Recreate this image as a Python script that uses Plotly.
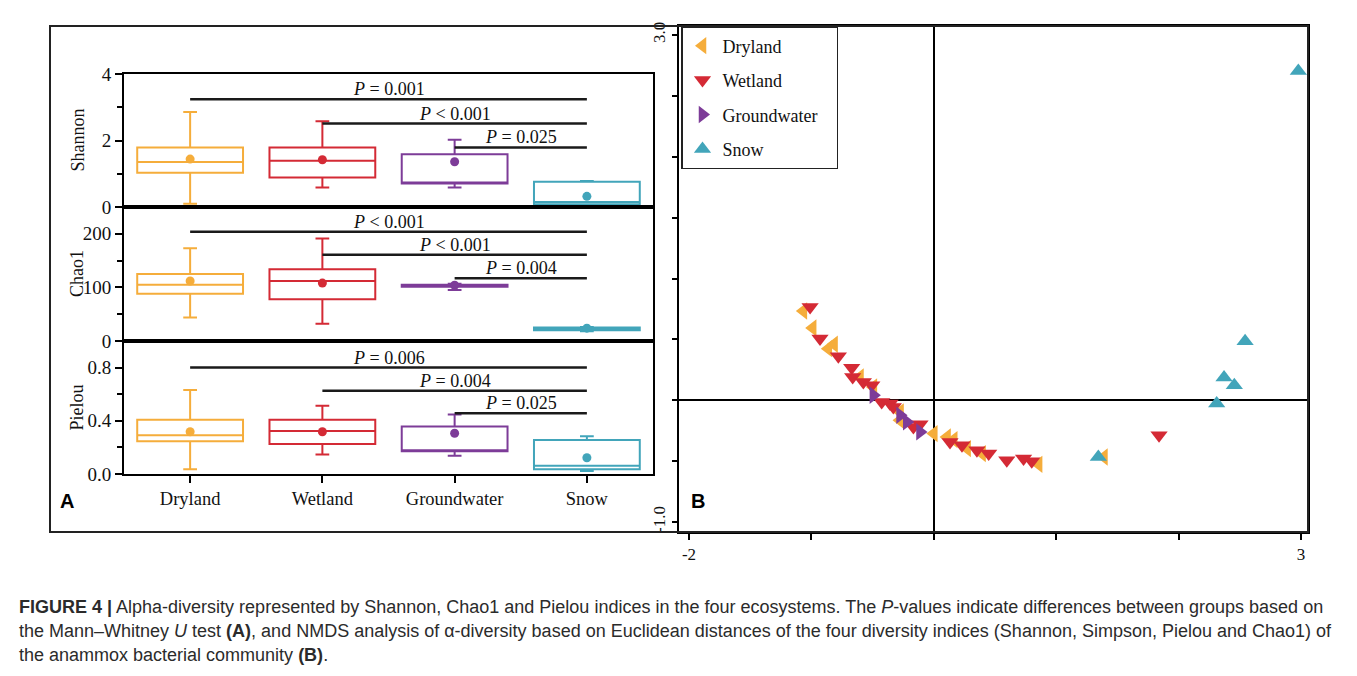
import plotly.graph_objects as go

W, H = 1357, 676

categories = ["Dryland", "Wetland", "Groundwater", "Snow"]
colors = ["#F5AD3B", "#D42A35", "#7D3C98", "#42A5BA"]

# ---- Panel A: box statistics ----
shannon_low = [0.10, 0.59, 0.59, 0.03]
shannon_q1 = [1.03, 0.89, 0.71, 0.08]
shannon_med = [1.35, 1.39, 0.71, 0.15]
shannon_q3 = [1.79, 1.79, 1.59, 0.76]
shannon_high = [2.86, 2.58, 2.02, 0.78]
shannon_mean = [1.44, 1.42, 1.36, 0.32]

chao1_low = [44, 32, 95, 18]
chao1_q1 = [88, 78, 101, 20]
chao1_med = [105, 112, 103, 22]
chao1_q3 = [125, 134, 105, 25]
chao1_high = [173, 191, 107, 26]
chao1_mean = [112, 108, 104, 24]

pielou_low = [0.035, 0.147, 0.137, 0.022]
pielou_q1 = [0.246, 0.226, 0.171, 0.035]
pielou_med = [0.291, 0.323, 0.171, 0.062]
pielou_q3 = [0.407, 0.407, 0.358, 0.256]
pielou_high = [0.631, 0.514, 0.447, 0.283]
pielou_mean = [0.318, 0.318, 0.306, 0.122]

sig_pairs = [("Dryland", "Snow"), ("Wetland", "Snow"), ("Groundwater", "Snow")]
shannon_sig_y = [3.24, 2.51, 1.79]
shannon_sig_text = ["= 0.001", "< 0.001", "= 0.025"]
chao1_sig_y = [204, 161, 117]
chao1_sig_text = ["< 0.001", "< 0.001", "= 0.004"]
pielou_sig_y = [0.80, 0.626, 0.457]
pielou_sig_text = ["= 0.006", "= 0.004", "= 0.025"]

# ---- Panel B: NMDS coordinates ----
dry_x = [-1.066, -0.990, -0.862, -0.815, -0.603, -0.494, -0.276, -0.276, 0.00, 0.108, 0.163, 0.272, 0.394, 0.856, 1.39]
dry_y = [0.733, 0.594, 0.424, 0.460, 0.191, 0.109, -0.096, -0.164, -0.274, -0.301, -0.323, -0.397, -0.438, -0.526, -0.466]
wet_x = [-1.011, -0.930, -0.780, -0.671, -0.663, -0.576, -0.507, -0.426, -0.358, -0.331, -0.167, -0.113, 0.132, 0.230, 0.352, 0.448, 0.596, 0.733, 0.800, 1.84]
wet_y = [0.766, 0.507, 0.361, 0.268, 0.191, 0.150, 0.123, -0.014, -0.027, -0.055, -0.219, -0.197, -0.342, -0.370, -0.411, -0.438, -0.493, -0.479, -0.501, -0.287]
gw_x = [-0.494, -0.276, -0.221, -0.113]
gw_y = [0.041, -0.123, -0.178, -0.260]
snow_x = [2.978, 2.543, 2.371, 2.455, 2.311, 1.344]
snow_y = [2.705, 0.485, 0.186, 0.123, -0.027, -0.466]

SERIF = "Liberation Serif"
SANS = "Liberation Sans"

def px_x(p):
    return p / W

def px_y(p):
    return 1 - p / H

fig = go.Figure()

panelA_x = [px_x(124), px_x(653)]
rows = [
    ("x", "y", [px_y(207), px_y(74)], [0, 4], [0, 2, 4], 1, shannon_low, shannon_q1, shannon_med, shannon_q3, shannon_high, shannon_mean, shannon_sig_y, shannon_sig_text, "Shannon"),
    ("x2", "y2", [px_y(341), px_y(207)], [0, 250], [0, 100, 200], 50, chao1_low, chao1_q1, chao1_med, chao1_q3, chao1_high, chao1_mean, chao1_sig_y, chao1_sig_text, "Chao1"),
    ("x3", "y3", [px_y(474), px_y(341)], [0, 1.0], [0.0, 0.4, 0.8], 0.2, pielou_low, pielou_q1, pielou_med, pielou_q3, pielou_high, pielou_mean, pielou_sig_y, pielou_sig_text, "Pielou"),
]

annotations = []
layout_axes = {}
for i, (xa, ya, ydom, yr, tv, minor, low, q1, med, q3, high, mean, sig_y, sig_t, title) in enumerate(rows):
    for j, cat in enumerate(categories):
        fig.add_trace(go.Box(
            x=[cat], q1=[q1[j]], median=[med[j]], q3=[q3[j]],
            lowerfence=[low[j]], upperfence=[high[j]],
            xaxis=xa, yaxis=ya, width=0.8, whiskerwidth=0.13,
            line=dict(color=colors[j], width=2), fillcolor="white",
            boxpoints=False, showlegend=False, hoverinfo="skip"))
    fig.add_trace(go.Scatter(
        x=categories, y=mean, mode="markers", xaxis=xa, yaxis=ya,
        marker=dict(color=colors, size=9), showlegend=False, hoverinfo="skip"))
    for (a, b), lvl, txt in zip(sig_pairs, sig_y, sig_t):
        fig.add_trace(go.Scatter(
            x=[a, b], y=[lvl, lvl], mode="lines", xaxis=xa, yaxis=ya,
            line=dict(color="#1a1a1a", width=2.5), showlegend=False, hoverinfo="skip"))
        mid = (categories.index(a) + categories.index(b)) / 2
        annotations.append(dict(
            x=mid, y=lvl, xref=xa, yref=ya, text="<i>P</i> " + txt,
            showarrow=False, yanchor="bottom", yshift=-2,
            font=dict(family=SERIF, size=18, color="#111")))
    annotations.append(dict(
        x=px_x(77), y=(ydom[0] + ydom[1]) / 2, xref="paper", yref="paper",
        text=title, textangle=-90, showarrow=False,
        xanchor="center", yanchor="middle",
        font=dict(family=SERIF, size=18, color="#111")))
    last = (i == 2)
    xkey = "xaxis" if xa == "x" else "xaxis" + xa[1:]
    ykey = "yaxis" if ya == "y" else "yaxis" + ya[1:]
    layout_axes[xkey] = dict(
        domain=panelA_x, anchor=ya, type="category", categoryorder="array",
        categoryarray=categories, range=[-0.5, 3.5], automargin=False,
        showline=True, linecolor="black", linewidth=2, mirror=True,
        showgrid=False, zeroline=False,
        ticks="outside" if last else "", ticklen=7, tickwidth=2, tickcolor="black",
        showticklabels=last,
        tickfont=dict(family=SERIF, size=18.5, color="#111"))
    layout_axes[ykey] = dict(
        domain=ydom, anchor=xa, range=yr, tickvals=tv, automargin=False,
        ticktext=[("%.1f" % v) if i == 2 else str(int(v)) for v in tv],
        ticks="outside", ticklen=7, tickwidth=2, tickcolor="black",
        minor=dict(dtick=minor, ticks="outside", ticklen=5, tickwidth=2, tickcolor="black"),
        showline=True, linecolor="black", linewidth=2, mirror=True,
        showgrid=False, zeroline=False,
        tickfont=dict(family=SERIF, size=19, color="#111"))

# ---- Panel B ----
groups_b = [
    ("Dryland", dry_x, dry_y, "triangle-left", colors[0]),
    ("Wetland", wet_x, wet_y, "triangle-down", colors[1]),
    ("Groundwater", gw_x, gw_y, "triangle-right", colors[2]),
    ("Snow", snow_x, snow_y, "triangle-up", colors[3]),
]
for name, xs, ys, sym, c in groups_b:
    label = name + ("\u00a0\u00a0\u00a0" if name == "Groundwater" else "")
    fig.add_trace(go.Scatter(
        x=xs, y=ys, mode="markers", name=label, legendgroup=name,
        xaxis="x4", yaxis="y4",
        marker=dict(symbol=sym, size=15, color=c, line=dict(width=0)),
        hoverinfo="skip"))

layout_axes["xaxis4"] = dict(
    domain=[px_x(679), px_x(1308)], anchor="y4", automargin=False,
    range=[-2.082, 3.057], tickvals=[-2, -1, 0, 1, 2, 3],
    ticktext=["-2", "", "", "", "", "3"],
    ticks="outside", ticklen=6, tickwidth=2, tickcolor="black",
    showline=True, linecolor="black", linewidth=2, mirror=True,
    showgrid=False, zeroline=True, zerolinecolor="black", zerolinewidth=2,
    tickfont=dict(family=SERIF, size=17, color="#111"))
layout_axes["yaxis4"] = dict(
    domain=[px_y(532), px_y(26)], anchor="x4", automargin=False,
    range=[-1.082, 3.074], tickvals=[-1, -0.5, 0, 0.5, 1, 1.5, 2, 2.5, 3],
    ticktext=["-1.0", "", "", "", "", "", "", "", "3.0"], tickangle=-90,
    ticks="outside", ticklen=5, tickwidth=2, tickcolor="black",
    showline=True, linecolor="black", linewidth=2, mirror=True,
    showgrid=False, zeroline=True, zerolinecolor="black", zerolinewidth=2,
    tickfont=dict(family=SERIF, size=17, color="#111"))

# panel labels
annotations.append(dict(x=px_x(58), y=px_y(514), xref="paper", yref="paper",
                        text="<b>A</b>", showarrow=False, xanchor="left",
                        font=dict(family=SANS, size=20, color="black")))
annotations.append(dict(x=px_x(689), y=px_y(514), xref="paper", yref="paper",
                        text="<b>B</b>", showarrow=False, xanchor="left",
                        font=dict(family=SANS, size=20, color="black")))

caption_lines = [
    "<b>FIGURE 4 |</b> Alpha-diversity represented by Shannon, Chao1 and Pielou indices in the four ecosystems. The <i>P</i>-values indicate differences between groups based on",
    "the Mann–Whitney <i>U</i> test <b>(A)</b>, and NMDS analysis of α-diversity based on Euclidean distances of the four diversity indices (Shannon, Simpson, Pielou and Chao1) of",
    "the anammox bacterial community <b>(B)</b>.",
]
for k, line in enumerate(caption_lines):
    annotations.append(dict(x=px_x(17), y=px_y(607 + 24 * k), xref="paper", yref="paper",
                            text=line, showarrow=False, xanchor="left", yanchor="middle",
                            font=dict(family=SANS, size=18, color="#2b2b2b")))

shapes = [
    dict(type="rect", xref="paper", yref="paper",
         x0=px_x(50), x1=px_x(1308), y0=px_y(532), y1=px_y(26),
         line=dict(color="#222", width=2), fillcolor="rgba(0,0,0,0)", layer="above"),
]

fig.update_layout(
    width=W, height=H, margin=dict(l=0, r=0, t=0, b=0, pad=0, autoexpand=False),
    paper_bgcolor="white", plot_bgcolor="white",
    boxmode="overlay",
    showlegend=True,
    legend=dict(x=px_x(681), y=px_y(26), xanchor="left", yanchor="top",
                bgcolor="white", bordercolor="#222", borderwidth=1.5,
                font=dict(family=SERIF, size=18, color="#111"),
                traceorder="grouped", tracegroupgap=8, itemwidth=30),
    annotations=annotations, shapes=shapes,
    **layout_axes)

fig.write_html("out.html")
